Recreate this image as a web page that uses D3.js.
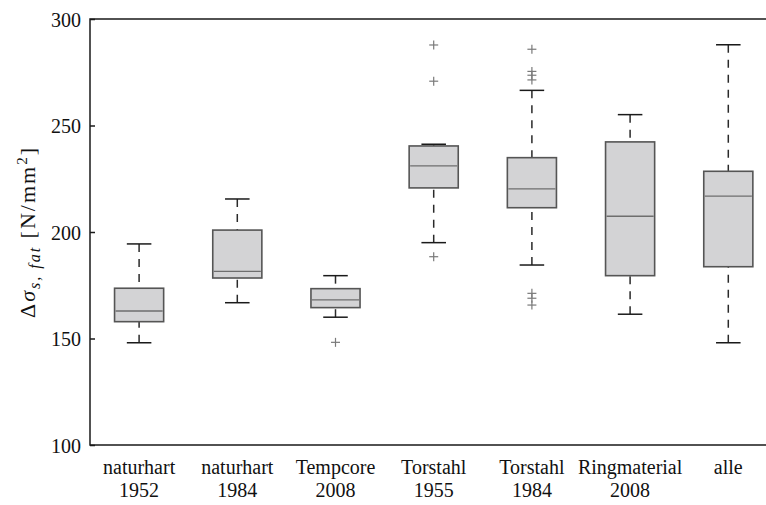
<!DOCTYPE html>
<html lang="de">
<head>
  <meta charset="utf-8">
  <title>boxplot</title>
  <script src="https://d3js.org/d3.v7.min.js"></script>
  <style>
    body { margin: 0; background: #fff; }
    text { font-family: "Liberation Serif", "DejaVu Serif", serif; fill: #111; }
  </style>
</head>
<body>
  <script>
    // Daten
    const groups = ["naturhart 1952", "naturhart 1984", "Tempcore 2008", "Torstahl 1955",
      "Torstahl 1984", "Ringmaterial 2008", "alle"];
    const labelLine1 = ["naturhart", "naturhart", "Tempcore", "Torstahl", "Torstahl", "Ringmaterial", "alle"];
    const labelLine2 = ["1952", "1984", "2008", "1955", "1984", "2008", ""];
    const whiskerLow = [148.0, 166.8, 160.0, 195.0, 184.5, 161.4, 148.0];
    const q1 = [157.9, 178.4, 164.5, 220.7, 211.4, 179.5, 183.7];
    const median = [162.9, 181.5, 168.1, 231.0, 220.2, 207.4, 216.8];
    const q3 = [173.6, 200.9, 173.4, 240.4, 234.9, 242.3, 228.5];
    const whiskerHigh = [194.4, 215.5, 179.5, 241.2, 266.5, 255.1, 287.9];
    const outliers = [[], [], [148.2], [188.4, 270.8, 287.8],
      [165.7, 168.9, 171.2, 271.4, 273.6, 275.4, 285.8], [], []];
    const yTicks = [100, 150, 200, 250, 300];

    const width = 766, height = 505;
    const margin = { top: 19, left: 90, bottom: 60 };
    const plotRight = 777.4;

    const svg = d3.select("body").append("svg")
      .attr("width", width).attr("height", height);

    const x = d3.scalePoint().domain(groups)
      .range([margin.left, plotRight]).padding(0.5);
    const y = d3.scaleLinear().domain([100, 300])
      .range([height - margin.bottom, margin.top]);

    const boxW = x.step() * 0.5;
    const capW = boxW * 0.5;

    const data = groups.map((g, i) => ({
      g, lo: whiskerLow[i], q1: q1[i], med: median[i], q3: q3[i], hi: whiskerHigh[i], out: outliers[i]
    }));

    const boxes = svg.selectAll("g.box").data(data).join("g")
      .attr("class", "box")
      .attr("transform", d => `translate(${x(d.g)},0)`);

    // Whisker (gestrichelt)
    boxes.append("line")
      .attr("x1", 0).attr("x2", 0)
      .attr("y1", d => y(d.hi)).attr("y2", d => y(d.q3))
      .attr("stroke", "#2a2a2a").attr("stroke-width", 1.5).attr("stroke-dasharray", "8,7");
    boxes.append("line")
      .attr("x1", 0).attr("x2", 0)
      .attr("y1", d => y(d.lo)).attr("y2", d => y(d.q1))
      .attr("stroke", "#2a2a2a").attr("stroke-width", 1.5).attr("stroke-dasharray", "8,7");
    // Endstriche
    boxes.selectAll("line.cap").data(d => [d.lo, d.hi]).join("line")
      .attr("class", "cap")
      .attr("x1", -capW / 2).attr("x2", capW / 2)
      .attr("y1", v => y(v)).attr("y2", v => y(v))
      .attr("stroke", "#1a1a1a").attr("stroke-width", 1.5);

    boxes.append("rect")
      .attr("x", -boxW / 2).attr("width", boxW)
      .attr("y", d => y(d.q3)).attr("height", d => y(d.q1) - y(d.q3))
      .attr("fill", "#d3d3d5").attr("stroke", "#555").attr("stroke-width", 1.6);
    boxes.append("line")
      .attr("x1", -boxW / 2 + 1).attr("x2", boxW / 2 - 1)
      .attr("y1", d => y(d.med)).attr("y2", d => y(d.med))
      .attr("stroke", "#6e6e6e").attr("stroke-width", 1.3);

    // Ausreisser als "+"
    const plus = boxes.selectAll("g.out").data(d => d.out).join("g")
      .attr("class", "out")
      .attr("transform", v => `translate(0,${y(v)})`);
    plus.append("line").attr("x1", -4.5).attr("x2", 4.5).attr("y1", 0).attr("y2", 0)
      .attr("stroke", "#7a7a7a").attr("stroke-width", 1.2);
    plus.append("line").attr("x1", 0).attr("x2", 0).attr("y1", -4.5).attr("y2", 4.5)
      .attr("stroke", "#7a7a7a").attr("stroke-width", 1.2);

    // Rahmen
    const frame = svg.append("g").attr("stroke", "#1a1a1a").attr("stroke-width", 1.5).attr("fill", "none");
    frame.append("path")
      .attr("d", `M${width + 5},${y(300)}H${margin.left}V${y(100)}H${width + 5}`);

    // y-Achse
    const yAxis = d3.axisRight(y).tickValues(yTicks).tickSize(5).tickFormat(d3.format("d"));
    const yg = svg.append("g").attr("transform", `translate(${margin.left},0)`).call(yAxis);
    yg.select(".domain").remove();
    yg.selectAll(".tick line").attr("stroke", "#1a1a1a").attr("stroke-width", 1.5);
    yg.selectAll(".tick text")
      .attr("x", -9).attr("dy", "0.35em")
      .attr("text-anchor", "end")
      .attr("font-family", "'Liberation Serif', serif")
      .attr("font-size", 20).attr("fill", "#111");

    // Kategorien
    const xl = svg.append("g");
    xl.selectAll("text").data(groups).join("text")
      .attr("x", d => x(d))
      .attr("y", 474)
      .attr("text-anchor", "middle")
      .attr("font-size", 20)
      .each(function (d, i) {
        const t = d3.select(this);
        t.append("tspan").attr("x", x(d)).text(labelLine1[i]);
        if (labelLine2[i]) t.append("tspan").attr("x", x(d)).attr("dy", 23).text(labelLine2[i]);
      });

    // y-Beschriftung
    const yl = svg.append("text")
      .attr("transform", `translate(35,${y(200)}) rotate(-90)`)
      .attr("text-anchor", "middle")
      .attr("letter-spacing", 2)
      .attr("font-size", 22);
    yl.append("tspan").text("Δ");
    yl.append("tspan").attr("font-style", "italic").text("σ");
    yl.append("tspan").attr("font-style", "italic").attr("font-size", 16).attr("dy", 5).text("s, fat");
    yl.append("tspan").attr("dy", -5).text(" [N/mm");
    yl.append("tspan").attr("font-size", 15).attr("dy", -8).text("2");
    yl.append("tspan").attr("dy", 8).text("]");
  </script>
</body>
</html>
